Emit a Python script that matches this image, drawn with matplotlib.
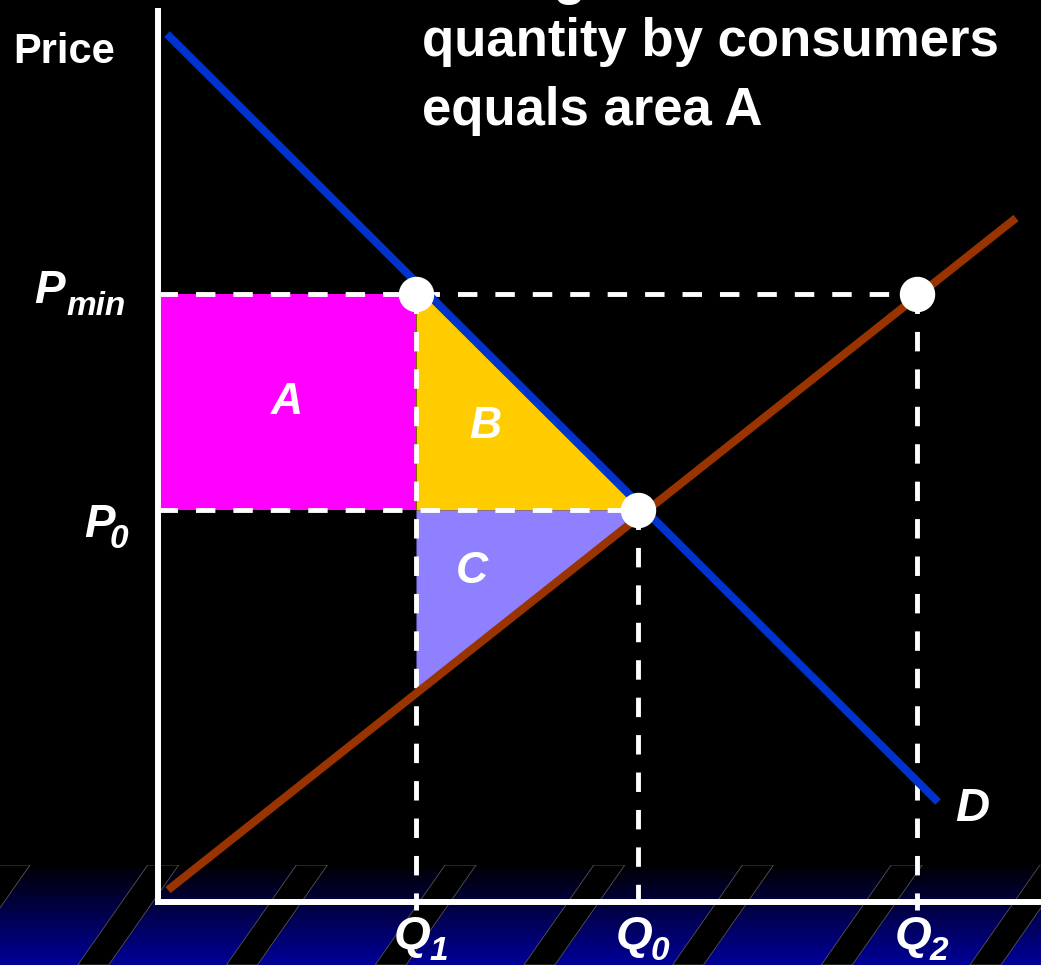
import numpy as np
import matplotlib
matplotlib.use("Agg")
import matplotlib.pyplot as plt
from matplotlib.patches import Polygon

# values (quantity / price units, origin at the axes corner)
Q1, Q0, Q2 = 2.58, 4.80, 7.59
P_MIN, P0 = 6.08, 3.92
demand_q = [0.09, 7.80]
demand_p = [8.68, 1.00]
supply_q = [0.10, 8.58]
supply_p = [0.12, 6.84]

title_lines = ["Change in revenue from reduced", "quantity by consumers", "equals area A"]
area_labels = ["A", "B", "C"]

W, H = 1041, 965
FONT = "Liberation Sans"

fig = plt.figure(figsize=(W / 100, H / 100), dpi=100, facecolor="black")

# slide template: blue gradient band with slanted black stripes
band = fig.add_axes([0, 0, 1, 100 / H], zorder=0)
band.set_xlim(0, W)
band.set_ylim(0, 100)
band.axis("off")
grad = np.zeros((256, 1, 3))
grad[:, 0, 2] = np.linspace(0.03, 0.6, 256)
band.imshow(grad, extent=(0, W, 0, 97), aspect="auto", interpolation="bilinear")
for k in range(8):
    x0 = -1 + 148.7 * k
    band.add_patch(Polygon([(x0, 100), (x0 + 31, 100), (x0 - 39, 0), (x0 - 70, 0)],
                           closed=True, facecolor="black", edgecolor="#555555", lw=0.6))

ax = fig.add_axes([0, 0, 1, 1], zorder=1)
ax.set_facecolor("none")
ax.set_xlim(-1.58, 8.83)
ax.set_ylim(-0.63, 9.02)
ax.axis("off")

# shaded areas
ax.fill_between([0, Q1], P0, P_MIN, color="#FF00FF", lw=0, zorder=2)
qq = np.linspace(Q1, Q0, 200)
d = np.interp(qq, demand_q, demand_p)
s = np.interp(qq, supply_q, supply_p)
ax.fill_between(qq, P0, np.clip(d, P0, P_MIN), color="#FFCC00", lw=0, zorder=2)
ax.fill_between(qq, np.minimum(s, P0), P0, color="#8F80FF", lw=0, zorder=2)

# dashed guides
dash = dict(color="white", lw=3.5, linestyle=(0, (4, 3.7)), dash_capstyle="butt", zorder=3)
ax.plot([0, Q2], [P_MIN, P_MIN], **dash)
ax.plot([0, Q0], [P0, P0], **dash)
ax.plot([Q1, Q1], [P_MIN, -0.08], **dash)
ax.plot([Q0, Q0], [P0, -0.08], **dash)
ax.plot([Q2, Q2], [P_MIN, -0.08], **dash)

# demand and supply
ax.plot(demand_q, demand_p, color="#0033CC", lw=5.8, solid_capstyle="butt", zorder=4)
ax.plot(supply_q, supply_p, color="#993300", lw=5.8, solid_capstyle="butt", zorder=4)

# axes
ax.plot([0, 0], [-0.02, 8.94], color="white", lw=4.3, solid_capstyle="butt", zorder=5)
ax.plot([-0.03, 8.83], [0, 0], color="white", lw=4.3, solid_capstyle="butt", zorder=5)

# points
ax.plot([Q1, Q0, Q2], [P_MIN, P0, P_MIN], "o", ms=24.5, color="white", mec="white", zorder=6)

bi = dict(family=FONT, weight="bold", style="italic", color="white", va="baseline", zorder=7)
b = dict(family=FONT, weight="bold", color="white", va="baseline", zorder=7)

ax.text(-1.45, 8.39, "Price", fontsize=30, ha="left", **b)

ax.text(-1.24, P_MIN - 0.09, "P", fontsize=33, ha="left", **bi)
ax.text(-0.92, P_MIN - 0.21, "min", fontsize=24, ha="left", **bi)
ax.text(-0.74, P0 - 0.27, "P", fontsize=33, ha="left", **bi)
ax.text(-0.48, P0 - 0.38, "0", fontsize=24, ha="left", **bi)

for q, sub in [(Q1, "1"), (Q0, "0"), (Q2, "2")]:
    ax.text(q - 0.04, -0.47, "Q", fontsize=34, ha="center", **bi)
    ax.text(q + 0.13, -0.58, sub, fontsize=24, ha="left", **bi)

ax.text(demand_q[1] + 0.17, 0.81, "D", fontsize=34, ha="left", **bi)

lab = dict(family=FONT, weight="bold", style="italic", color="white",
           fontsize=32, ha="center", va="center", zorder=7)
ax.text(Q1 / 2, (P0 + P_MIN) / 2, area_labels[0], **lab)
ax.text((2 * Q1 + Q0) / 3 - 0.05, (P_MIN + 2 * P0) / 3 + 0.12, area_labels[1], **lab)
ax.text((2 * Q1 + Q0) / 3 - 0.18, (2 * P0 + np.interp(Q1, supply_q, supply_p)) / 3, area_labels[2], **lab)

for i, line in enumerate(title_lines):
    ax.text(2.64, 9.08 - 0.69 * i + (0.07 if i else 0), line, fontsize=38, ha="left", **b)

fig.savefig("out.png", dpi=100, facecolor="black")
